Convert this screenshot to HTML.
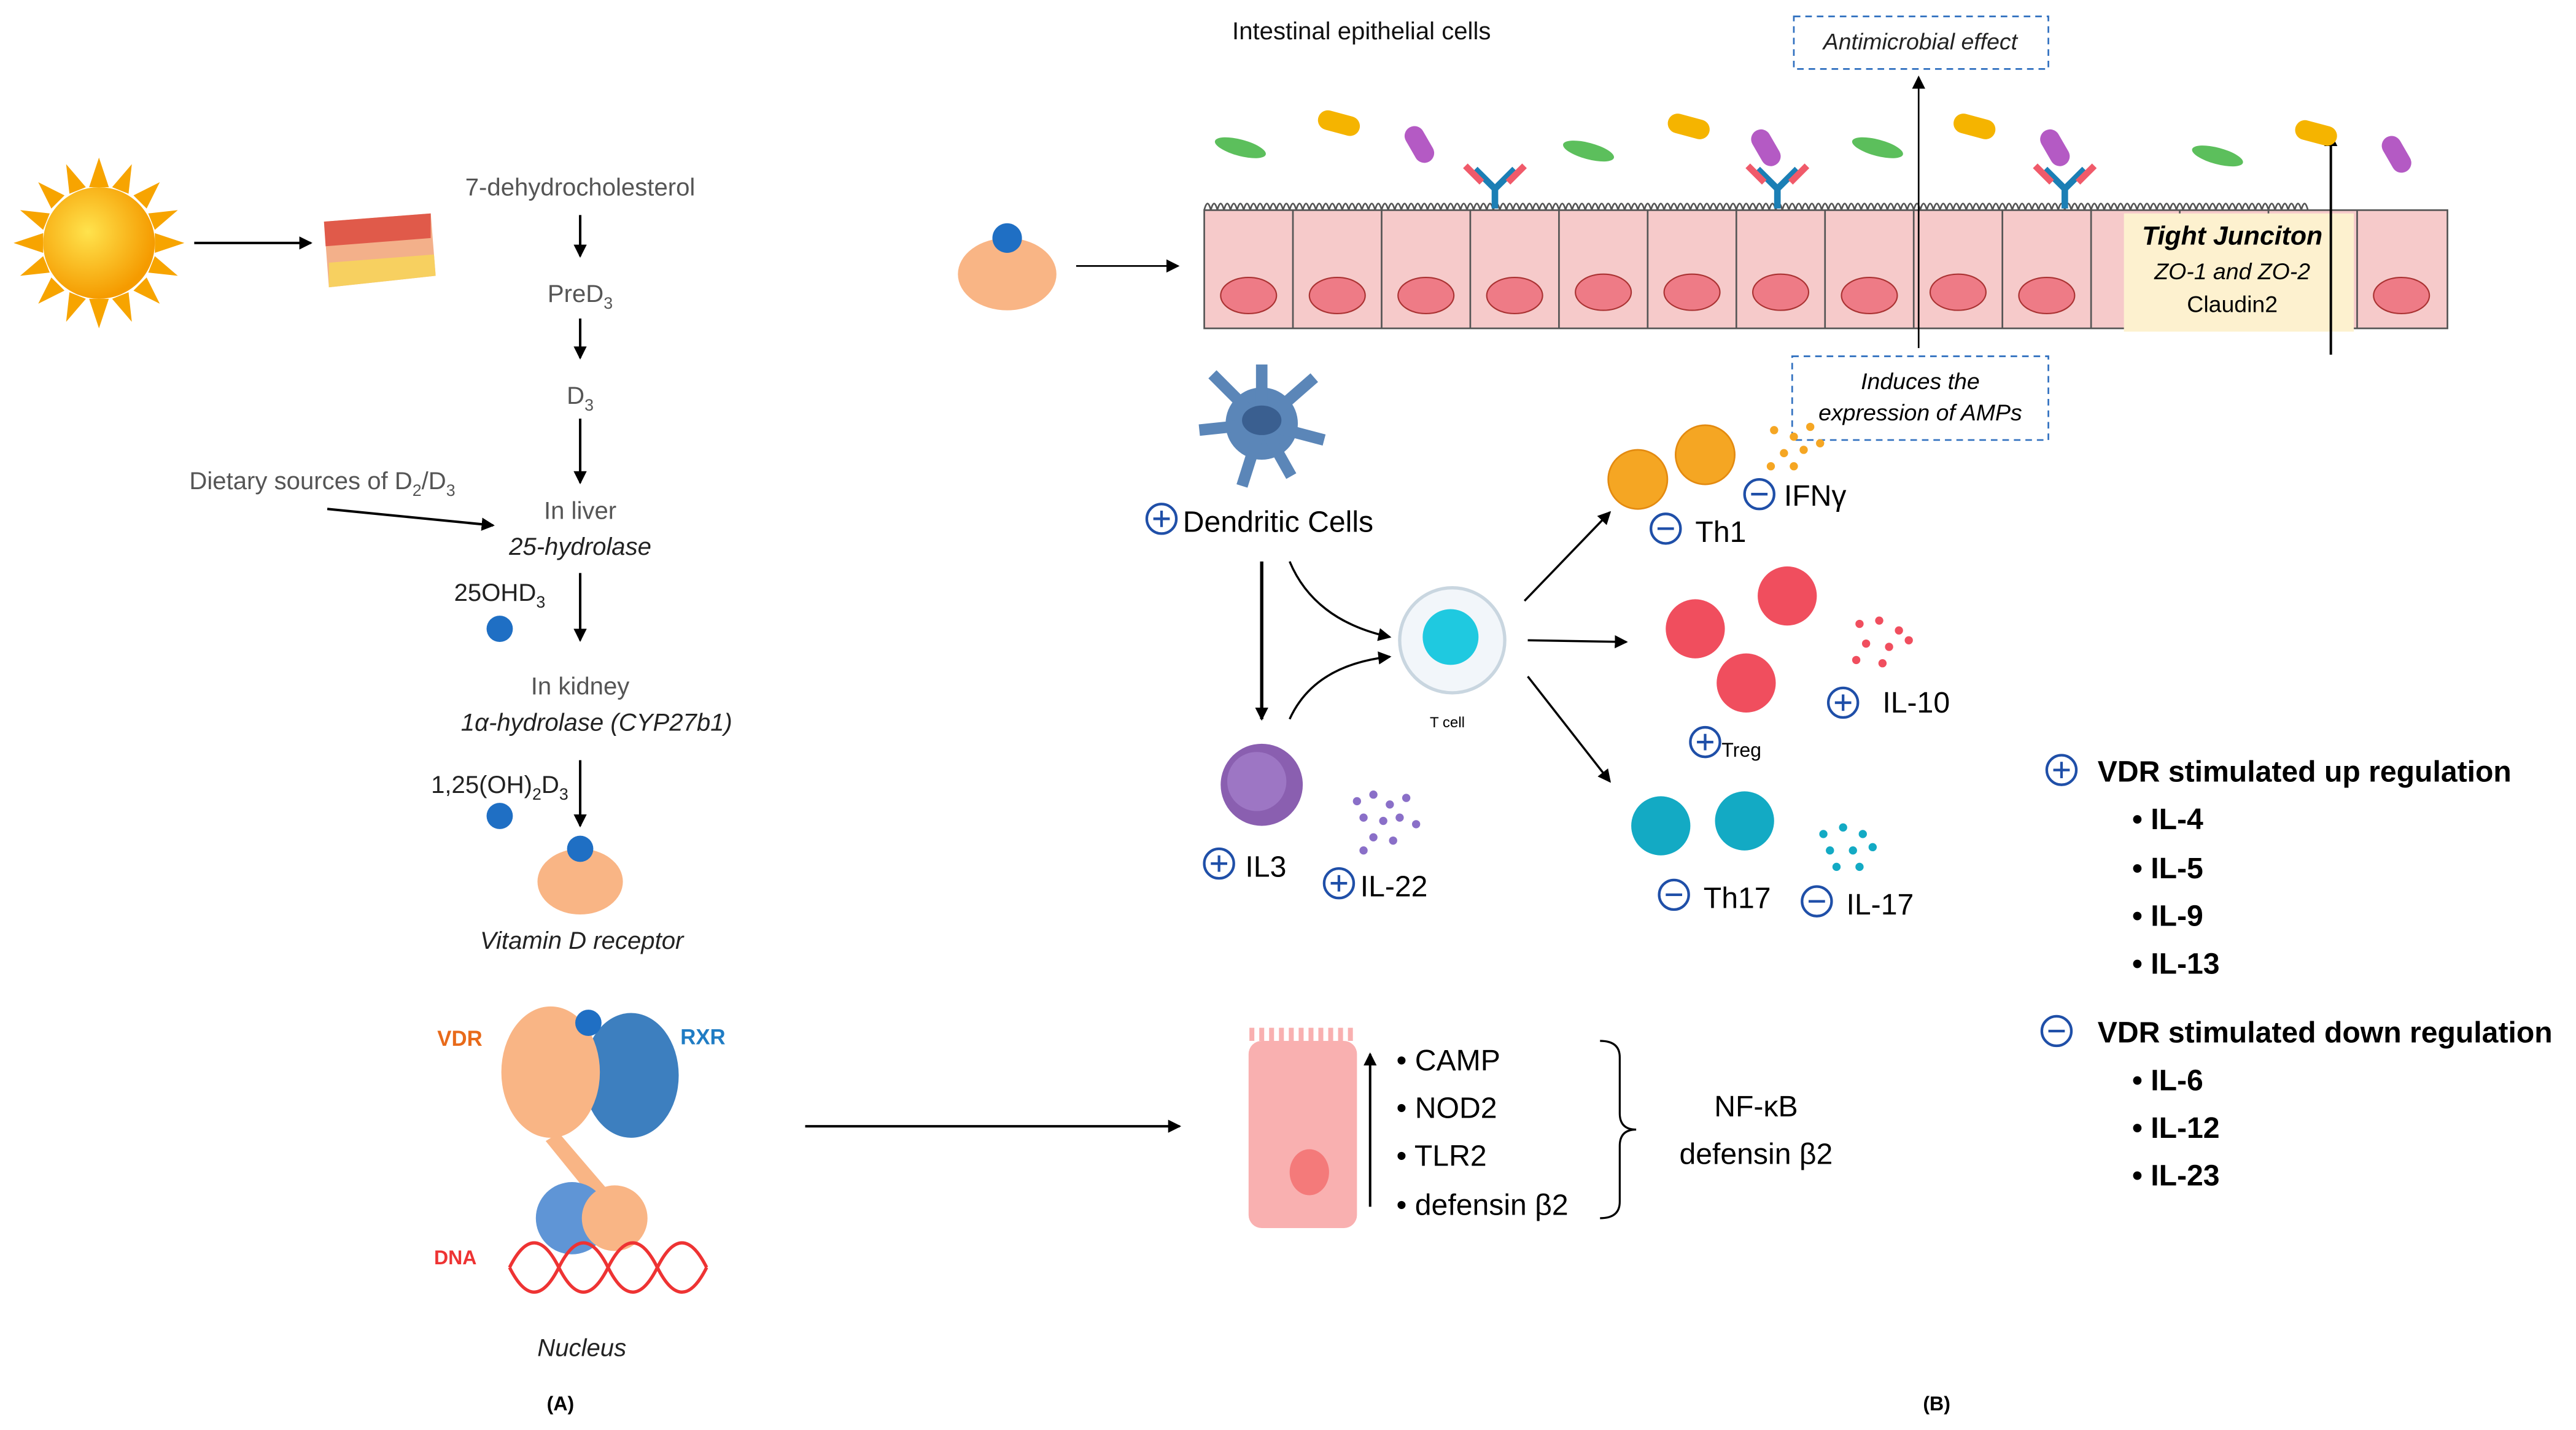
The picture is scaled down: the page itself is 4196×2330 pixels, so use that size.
<!DOCTYPE html>
<html><head><meta charset="utf-8"><style>
html,body{margin:0;padding:0;background:#fff;}
svg{display:block;}
text{font-family:"Liberation Sans",sans-serif;}
</style></head><body>
<svg width="4196" height="2330" viewBox="0 0 1568 871" xmlns="http://www.w3.org/2000/svg">
<defs>
<marker id="ar" markerWidth="8" markerHeight="8" refX="7" refY="4" orient="auto" markerUnits="userSpaceOnUse"><path d="M0,0 L8,4 L0,8 z" fill="#000"/></marker>
<radialGradient id="sun" cx="0.4" cy="0.4" r="0.6"><stop offset="0" stop-color="#ffe34d"/><stop offset="1" stop-color="#f59b00"/></radialGradient>
</defs>
<rect width="1568" height="871" fill="#fff"/>
<!-- Sun -->
<g transform="translate(60,148)">
<g fill="#f7a400">
<polygon points="0,-52 6,-34 -6,-34"/><polygon points="0,52 6,34 -6,34"/><polygon points="-52,0 -34,6 -34,-6"/><polygon points="52,0 34,6 34,-6"/>
<polygon points="37,-37 29,-21 21,-29"/><polygon points="-37,-37 -29,-21 -21,-29"/><polygon points="37,37 29,21 21,29"/><polygon points="-37,37 -29,21 -21,29"/>
<polygon points="20,-48 18,-30 8,-34"/><polygon points="-20,-48 -18,-30 -8,-34"/><polygon points="20,48 18,30 8,34"/><polygon points="-20,48 -18,30 -8,34"/>
<polygon points="48,-20 30,-18 34,-8"/><polygon points="-48,-20 -30,-18 -34,-8"/><polygon points="48,20 30,18 34,8"/><polygon points="-48,20 -30,18 -34,8"/>
</g>
<circle r="34" fill="url(#sun)"/>
</g>
<line x1="118" y1="148" x2="189" y2="148" stroke="#000" stroke-width="1.5" marker-end="url(#ar)"/>
<!-- skin -->
<path d="M197,135 L262,130 L265,168 L200,175 Z" fill="#f3b08a"/>
<path d="M197,135 L262,130 L262,145 L198,150 Z" fill="#e05a4a"/>
<path d="M200,160 L264,155 L265,168 L200,175 Z" fill="#f7d060"/>
<!-- left pathway -->
<g font-size="15" fill="#555" text-anchor="middle">
<text x="353" y="119">7-dehydrocholesterol</text>
<text x="353" y="184">PreD<tspan font-size="10" dy="4">3</tspan></text>
<text x="353" y="246">D<tspan font-size="10" dy="4">3</tspan></text>
<text x="353" y="316">In liver</text>
<text x="353" y="338" font-style="italic" fill="#222">25-hydrolase</text>
<text x="353" y="423">In kidney</text>
<text x="363" y="445" font-style="italic" fill="#222">1α-hydrolase (CYP27b1)</text>
<text x="196" y="298">Dietary sources of D<tspan font-size="10" dy="4">2</tspan><tspan dy="-4">/D</tspan><tspan font-size="10" dy="4">3</tspan></text>
<text x="304" y="366" fill="#222">25OHD<tspan font-size="10" dy="4">3</tspan></text>
<text x="304" y="483" fill="#222">1,25(OH)<tspan font-size="10" dy="4">2</tspan><tspan dy="-4">D</tspan><tspan font-size="10" dy="4">3</tspan></text>
<text x="354" y="578" font-style="italic" fill="#222">Vitamin D receptor</text>
<text x="354" y="826" font-style="italic" fill="#222">Nucleus</text>
</g>
<g stroke="#000" stroke-width="1.5" marker-end="url(#ar)">
<line x1="353" y1="131" x2="353" y2="156"/>
<line x1="353" y1="194" x2="353" y2="218"/>
<line x1="353" y1="255" x2="353" y2="294"/>
<line x1="353" y1="349" x2="353" y2="390"/>
<line x1="353" y1="463" x2="353" y2="503"/>
<line x1="199" y1="310" x2="300" y2="320"/>
<line x1="490" y1="686" x2="718" y2="686"/>
</g>
<circle cx="304" cy="383" r="8" fill="#1f6fc4"/>
<circle cx="304" cy="497" r="8" fill="#1f6fc4"/>
<ellipse cx="353" cy="537" rx="26" ry="20" fill="#f9b585"/>
<circle cx="353" cy="517" r="8" fill="#1f6fc4"/>
<!-- VDR RXR -->
<ellipse cx="384" cy="655" rx="29" ry="38" fill="#3d7fbf"/>
<ellipse cx="335" cy="653" rx="30" ry="40" fill="#f9b585"/>
<circle cx="358" cy="623" r="8" fill="#1f6fc4"/>
<path d="M340,690 L370,725 L362,732 L332,695 Z" fill="#f9b585"/>
<circle cx="348" cy="742" r="22" fill="#5f95d6"/>
<circle cx="374" cy="742" r="20" fill="#f9b585"/>
<path d="M310,772 q15,-30 30,0 t30,0 t30,0 t30,0" fill="none" stroke="#e33" stroke-width="2"/>
<path d="M310,772 q15,30 30,0 t30,0 t30,0 t30,0" fill="none" stroke="#e33" stroke-width="2"/>
<text x="266" y="637" font-size="13" font-weight="bold" fill="#e86a1a">VDR</text>
<text x="414" y="636" font-size="13" font-weight="bold" fill="#1f7cc4">RXR</text>
<text x="264" y="770" font-size="12" font-weight="bold" fill="#e33">DNA</text>
<text x="341" y="859" font-size="12" font-weight="bold" text-anchor="middle">(A)</text>
<text x="1179" y="859" font-size="12" font-weight="bold" text-anchor="middle">(B)</text>
<!-- Right top -->
<text x="750" y="24" font-size="15" fill="#111">Intestinal epithelial cells</text>
<rect x="1092" y="10" width="155" height="32" fill="none" stroke="#2f6fbf" stroke-dasharray="4,3"/>
<text x="1169" y="30" font-size="14" font-style="italic" text-anchor="middle" fill="#222">Antimicrobial effect</text>
<ellipse cx="613" cy="167" rx="30" ry="22" fill="#f9b585"/>
<circle cx="613" cy="145" r="9" fill="#1f6fc4"/>
<line x1="655" y1="162" x2="717" y2="162" stroke="#000" stroke-width="1" marker-end="url(#ar)"/>
<!-- epithelium -->
<g>
<rect x="733" y="128" width="757" height="72" fill="#f6caca" stroke="#555"/>
<g stroke="#555" fill="none">
<path d="M787,128V200M841,128V200M895,128V200M949,128V200M1003,128V200M1057,128V200M1111,128V200M1165,128V200M1219,128V200M1273,128V200M1327,128V200M1381,128V200M1435,128V200"/>
<path d="M733,128 q2,-8 4,0 q2,-8 4,0 q2,-8 4,0 q2,-8 4,0 q2,-8 4,0 q2,-8 4,0 q2,-8 4,0 q2,-8 4,0 q2,-8 4,0 q2,-8 4,0 q2,-8 4,0 q2,-8 4,0 q2,-8 4,0 q2,-8 4,0 q2,-8 4,0 q2,-8 4,0 q2,-8 4,0 q2,-8 4,0 q2,-8 4,0 q2,-8 4,0 q2,-8 4,0 q2,-8 4,0 q2,-8 4,0 q2,-8 4,0 q2,-8 4,0 q2,-8 4,0 q2,-8 4,0 q2,-8 4,0 q2,-8 4,0 q2,-8 4,0 q2,-8 4,0 q2,-8 4,0 q2,-8 4,0 q2,-8 4,0 q2,-8 4,0 q2,-8 4,0 q2,-8 4,0 q2,-8 4,0 q2,-8 4,0 q2,-8 4,0 q2,-8 4,0 q2,-8 4,0 q2,-8 4,0 q2,-8 4,0 q2,-8 4,0 q2,-8 4,0 q2,-8 4,0 q2,-8 4,0 q2,-8 4,0 q2,-8 4,0 q2,-8 4,0 q2,-8 4,0 q2,-8 4,0 q2,-8 4,0 q2,-8 4,0 q2,-8 4,0 q2,-8 4,0 q2,-8 4,0 q2,-8 4,0 q2,-8 4,0 q2,-8 4,0 q2,-8 4,0 q2,-8 4,0 q2,-8 4,0 q2,-8 4,0 q2,-8 4,0 q2,-8 4,0 q2,-8 4,0 q2,-8 4,0 q2,-8 4,0 q2,-8 4,0 q2,-8 4,0 q2,-8 4,0 q2,-8 4,0 q2,-8 4,0 q2,-8 4,0 q2,-8 4,0 q2,-8 4,0 q2,-8 4,0 q2,-8 4,0 q2,-8 4,0 q2,-8 4,0 q2,-8 4,0 q2,-8 4,0 q2,-8 4,0 q2,-8 4,0 q2,-8 4,0 q2,-8 4,0 q2,-8 4,0 q2,-8 4,0 q2,-8 4,0 q2,-8 4,0 q2,-8 4,0 q2,-8 4,0 q2,-8 4,0 q2,-8 4,0 q2,-8 4,0 q2,-8 4,0 q2,-8 4,0 q2,-8 4,0 q2,-8 4,0 q2,-8 4,0 q2,-8 4,0 q2,-8 4,0 q2,-8 4,0 q2,-8 4,0 q2,-8 4,0 q2,-8 4,0 q2,-8 4,0 q2,-8 4,0 q2,-8 4,0 q2,-8 4,0 q2,-8 4,0 q2,-8 4,0 q2,-8 4,0 q2,-8 4,0 q2,-8 4,0 q2,-8 4,0 q2,-8 4,0 q2,-8 4,0 q2,-8 4,0 q2,-8 4,0 q2,-8 4,0 q2,-8 4,0 q2,-8 4,0 q2,-8 4,0 q2,-8 4,0 q2,-8 4,0 q2,-8 4,0 q2,-8 4,0 q2,-8 4,0 q2,-8 4,0 q2,-8 4,0 q2,-8 4,0 q2,-8 4,0 q2,-8 4,0 q2,-8 4,0 q2,-8 4,0 q2,-8 4,0 q2,-8 4,0 q2,-8 4,0 q2,-8 4,0 q2,-8 4,0 q2,-8 4,0 q2,-8 4,0 q2,-8 4,0 q2,-8 4,0 q2,-8 4,0 q2,-8 4,0 q2,-8 4,0 q2,-8 4,0 q2,-8 4,0 q2,-8 4,0 q2,-8 4,0 q2,-8 4,0 q2,-8 4,0 q2,-8 4,0 q2,-8 4,0 q2,-8 4,0 q2,-8 4,0 q2,-8 4,0 q2,-8 4,0 q2,-8 4,0 q2,-8 4,0 q2,-8 4,0 q2,-8 4,0 q2,-8 4,0 q2,-8 4,0"/>
</g>
<g fill="#ee7b86" stroke="#a33" stroke-width="0.8">
<ellipse cx="760" cy="180" rx="17" ry="11"/><ellipse cx="814" cy="180" rx="17" ry="11"/><ellipse cx="868" cy="180" rx="17" ry="11"/><ellipse cx="922" cy="180" rx="17" ry="11"/><ellipse cx="976" cy="178" rx="17" ry="11"/><ellipse cx="1030" cy="178" rx="17" ry="11"/><ellipse cx="1084" cy="178" rx="17" ry="11"/><ellipse cx="1138" cy="180" rx="17" ry="11"/><ellipse cx="1192" cy="178" rx="17" ry="11"/><ellipse cx="1246" cy="180" rx="17" ry="11"/><ellipse cx="1462" cy="180" rx="17" ry="11"/>
</g>
</g>
<rect x="1293" y="130" width="140" height="72" fill="#fdf1cf"/>
<text x="1359" y="149" font-size="16" font-weight="bold" font-style="italic" text-anchor="middle">Tight Junciton</text>
<text x="1359" y="170" font-size="14" font-style="italic" text-anchor="middle">ZO-1 and ZO-2</text>
<text x="1359" y="190" font-size="14" text-anchor="middle">Claudin2</text>
<line x1="1419" y1="216" x2="1419" y2="82" stroke="#000" stroke-width="1.5" marker-end="url(#ar)"/>
<line x1="1168" y1="212" x2="1168" y2="47" stroke="#000" stroke-width="1" marker-end="url(#ar)"/>
<!-- bacteria -->
<g>
<ellipse cx="755" cy="90" rx="16" ry="5" fill="#5cbf5c" transform="rotate(15 755 90)"/>
<ellipse cx="967" cy="92" rx="16" ry="5" fill="#5cbf5c" transform="rotate(15 967 92)"/>
<ellipse cx="1143" cy="90" rx="16" ry="5" fill="#5cbf5c" transform="rotate(15 1143 90)"/>
<ellipse cx="1350" cy="95" rx="16" ry="5" fill="#5cbf5c" transform="rotate(15 1350 95)"/>
<rect x="802" y="69" width="26" height="12" rx="6" fill="#f5b400" transform="rotate(15 815 75)"/>
<rect x="1015" y="71" width="26" height="12" rx="6" fill="#f5b400" transform="rotate(15 1028 77)"/>
<rect x="1189" y="71" width="26" height="12" rx="6" fill="#f5b400" transform="rotate(15 1202 77)"/>
<rect x="1397" y="75" width="26" height="12" rx="6" fill="#f5b400" transform="rotate(15 1410 81)"/>
<rect x="858" y="76" width="12" height="24" rx="6" fill="#b45ac4" transform="rotate(-30 864 88)"/>
<rect x="1069" y="78" width="12" height="24" rx="6" fill="#b45ac4" transform="rotate(-30 1075 90)"/>
<rect x="1245" y="78" width="12" height="24" rx="6" fill="#b45ac4" transform="rotate(-30 1251 90)"/>
<rect x="1453" y="82" width="12" height="24" rx="6" fill="#b45ac4" transform="rotate(-30 1459 94)"/>
</g>
<!-- antibodies -->
<g stroke-width="4" fill="none">
<g transform="translate(910,127)"><path d="M0,0 V-12 L-12,-24 M0,-12 L12,-24" stroke="#1b7fb5"/><path d="M-8,-16 L-18,-26 M8,-16 L18,-26" stroke="#f05a6a"/></g>
<g transform="translate(1082,127)"><path d="M0,0 V-12 L-12,-24 M0,-12 L12,-24" stroke="#1b7fb5"/><path d="M-8,-16 L-18,-26 M8,-16 L18,-26" stroke="#f05a6a"/></g>
<g transform="translate(1257,127)"><path d="M0,0 V-12 L-12,-24 M0,-12 L12,-24" stroke="#1b7fb5"/><path d="M-8,-16 L-18,-26 M8,-16 L18,-26" stroke="#f05a6a"/></g>
</g>
<rect x="1091" y="217" width="156" height="51" fill="#fff" stroke="#2f6fbf" stroke-dasharray="4,3"/>
<text x="1169" y="237" font-size="14" font-style="italic" text-anchor="middle">Induces the</text>
<text x="1169" y="256" font-size="14" font-style="italic" text-anchor="middle">expression of AMPs</text>
<!-- dendritic -->
<g fill="#5b86b8">
<circle cx="768" cy="258" r="22"/>
<path d="M768,258 L738,228 M768,258 L800,230 M768,258 L806,268 M768,258 L730,262 M768,258 L756,296 M768,258 L786,290 M768,258 L768,222" stroke="#5b86b8" stroke-width="7"/>
<ellipse cx="768" cy="256" rx="12" ry="9" fill="#3a5f90"/>
</g>
<g fill="none" stroke="#1f4fa8" stroke-width="1.6">
<circle cx="707" cy="316" r="9"/><path d="M702,316h10M707,311v10"/>
</g>
<text x="720" y="324" font-size="18">Dendritic Cells</text>
<g stroke="#000" stroke-width="1.3" fill="none" marker-end="url(#ar)">
<line x1="768" y1="342" x2="768" y2="438" stroke-width="2"/>
<path d="M785,342 Q800,378 846,388"/>
<path d="M785,438 Q800,405 846,400"/>
<line x1="928" y1="366" x2="980" y2="312"/>
<line x1="930" y1="390" x2="990" y2="391"/>
<line x1="930" y1="412" x2="980" y2="476"/>
</g>
<!-- T cell -->
<circle cx="884" cy="390" r="32" fill="#f2f6fa" stroke="#c9d6e0" stroke-width="2"/>
<circle cx="883" cy="388" r="17" fill="#1fc9e0"/>
<text x="881" y="443" font-size="9" text-anchor="middle">T cell</text>
<!-- IL3 cell -->
<circle cx="768" cy="478" r="25" fill="#8a5fb0"/><circle cx="765" cy="476" r="18" fill="#9d76c4"/>
<g fill="#8a6fc8"><circle cx="826" cy="488" r="2.5"/><circle cx="836" cy="484" r="2.5"/><circle cx="846" cy="490" r="2.5"/><circle cx="856" cy="486" r="2.5"/><circle cx="830" cy="498" r="2.5"/><circle cx="842" cy="500" r="2.5"/><circle cx="852" cy="498" r="2.5"/><circle cx="862" cy="502" r="2.5"/><circle cx="836" cy="510" r="2.5"/><circle cx="848" cy="512" r="2.5"/><circle cx="830" cy="518" r="2.5"/></g>
<!-- Th1 -->
<circle cx="997" cy="292" r="18" fill="#f5a623" stroke="#e38a10"/><circle cx="1038" cy="277" r="18" fill="#f5a623" stroke="#e38a10"/>
<g fill="#f5a623"><circle cx="1080" cy="262" r="2.5"/><circle cx="1092" cy="266" r="2.5"/><circle cx="1102" cy="260" r="2.5"/><circle cx="1086" cy="276" r="2.5"/><circle cx="1098" cy="274" r="2.5"/><circle cx="1108" cy="270" r="2.5"/><circle cx="1078" cy="284" r="2.5"/><circle cx="1092" cy="284" r="2.5"/></g>
<!-- Treg -->
<circle cx="1032" cy="383" r="18" fill="#f04e5e"/><circle cx="1088" cy="363" r="18" fill="#f04e5e"/><circle cx="1063" cy="416" r="18" fill="#f04e5e"/>
<g fill="#f04e5e"><circle cx="1132" cy="380" r="2.5"/><circle cx="1144" cy="378" r="2.5"/><circle cx="1156" cy="384" r="2.5"/><circle cx="1136" cy="392" r="2.5"/><circle cx="1150" cy="394" r="2.5"/><circle cx="1162" cy="390" r="2.5"/><circle cx="1130" cy="402" r="2.5"/><circle cx="1146" cy="404" r="2.5"/></g>
<!-- Th17 -->
<circle cx="1011" cy="503" r="18" fill="#13aac4"/><circle cx="1062" cy="500" r="18" fill="#13aac4"/>
<g fill="#13aac4"><circle cx="1110" cy="508" r="2.5"/><circle cx="1122" cy="504" r="2.5"/><circle cx="1134" cy="508" r="2.5"/><circle cx="1114" cy="518" r="2.5"/><circle cx="1128" cy="518" r="2.5"/><circle cx="1140" cy="516" r="2.5"/><circle cx="1118" cy="528" r="2.5"/><circle cx="1132" cy="528" r="2.5"/></g>
<!-- signs -->
<g fill="none" stroke="#1f4fa8" stroke-width="1.6">
<circle cx="1014" cy="322" r="9"/><path d="M1009,322h10"/>
<circle cx="1071" cy="301" r="9"/><path d="M1066,301h10"/>
<circle cx="1038" cy="452" r="9"/><path d="M1033,452h10M1038,447v10"/>
<circle cx="1122" cy="428" r="9"/><path d="M1117,428h10M1122,423v10"/>
<circle cx="742" cy="526" r="9"/><path d="M737,526h10M742,521v10"/>
<circle cx="815" cy="538" r="9"/><path d="M810,538h10M815,533v10"/>
<circle cx="1019" cy="545" r="9"/><path d="M1014,545h10"/>
<circle cx="1106" cy="549" r="9"/><path d="M1101,549h10"/>
<circle cx="1255" cy="469" r="9"/><path d="M1250,469h10M1255,464v10"/>
<circle cx="1252" cy="628" r="9"/><path d="M1247,628h10"/>
</g>
<g font-size="18">
<text x="1032" y="330">Th1</text>
<text x="1086" y="308">IFNγ</text>
<text x="1048" y="461" font-size="12">Treg</text>
<text x="1146" y="434">IL-10</text>
<text x="758" y="534">IL3</text>
<text x="828" y="546">IL-22</text>
<text x="1037" y="553">Th17</text>
<text x="1124" y="557">IL-17</text>
</g>
<g font-size="18" font-weight="bold">
<text x="1277" y="476">VDR stimulated up regulation</text>
<text x="1298" y="505">• IL-4</text>
<text x="1298" y="535">• IL-5</text>
<text x="1298" y="564">• IL-9</text>
<text x="1298" y="593">• IL-13</text>
<text x="1277" y="635">VDR stimulated down regulation</text>
<text x="1298" y="664">• IL-6</text>
<text x="1298" y="693">• IL-12</text>
<text x="1298" y="722">• IL-23</text>
</g>
<!-- bottom cell -->
<rect x="760" y="634" width="66" height="114" rx="8" fill="#f9b0b0"/>
<path d="M762,634 v-8 M768,634 v-8 M774,634 v-8 M780,634 v-8 M786,634 v-8 M792,634 v-8 M798,634 v-8 M804,634 v-8 M810,634 v-8 M816,634 v-8 M822,634 v-8" stroke="#f9b0b0" stroke-width="3"/>
<ellipse cx="797" cy="714" rx="12" ry="14" fill="#f47a7a"/>
<line x1="834" y1="735" x2="834" y2="642" stroke="#000" stroke-width="1.5" marker-end="url(#ar)"/>
<g font-size="18">
<text x="850" y="652">• CAMP</text>
<text x="850" y="681">• NOD2</text>
<text x="850" y="710">• TLR2</text>
<text x="850" y="740">• defensin β2</text>
<text x="1069" y="680" text-anchor="middle">NF-κB</text>
<text x="1069" y="709" text-anchor="middle">defensin β2</text>
</g>
<path d="M974,634 q12,0 12,10 v34 q0,10 10,10 q-10,0 -10,10 v34 q0,10 -12,10" fill="none" stroke="#000" stroke-width="1.2"/>
</svg>
</body></html>
